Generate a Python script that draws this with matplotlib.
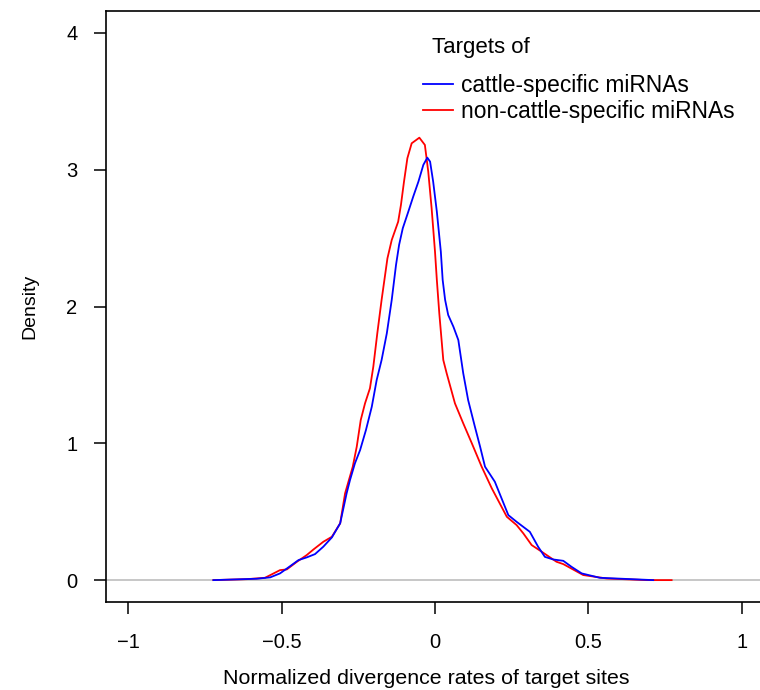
import matplotlib
matplotlib.use("Agg")
import matplotlib.pyplot as plt

plt.rcParams['font.family'] = ['Liberation Sans', 'DejaVu Sans']

# density of normalized divergence rates
cattle_x = [-0.722, -0.581, -0.537, -0.505, -0.472, -0.445, -0.418, -0.391, -0.364, -0.336,
            -0.309, -0.288, -0.277, -0.261, -0.244, -0.225, -0.206, -0.190, -0.174, -0.157,
            -0.141, -0.127, -0.117, -0.105, -0.087, -0.071, -0.054, -0.038, -0.025, -0.016,
            -0.006, 0.006, 0.019, 0.025, 0.033, 0.043, 0.060, 0.076, 0.092, 0.108,
            0.130, 0.147, 0.163, 0.195, 0.217, 0.239, 0.266, 0.309, 0.336, 0.358,
            0.385, 0.418, 0.445, 0.478, 0.537, 0.711]
cattle_y = [0.0, 0.010, 0.020, 0.049, 0.102, 0.146, 0.166, 0.190, 0.244, 0.312,
            0.415, 0.634, 0.731, 0.853, 0.951, 1.097, 1.267, 1.463, 1.609, 1.804,
            2.048, 2.304, 2.450, 2.572, 2.693, 2.803, 2.913, 3.035, 3.088, 3.059,
            2.913, 2.693, 2.401, 2.194, 2.048, 1.938, 1.852, 1.755, 1.512, 1.316,
            1.121, 0.975, 0.829, 0.719, 0.597, 0.475, 0.426, 0.353, 0.244, 0.170,
            0.151, 0.141, 0.097, 0.049, 0.017, 0.0]

other_x = [-0.722, -0.613, -0.554, -0.532, -0.505, -0.483, -0.450, -0.418, -0.396, -0.364,
           -0.336, -0.309, -0.293, -0.268, -0.255, -0.242, -0.228, -0.212, -0.201, -0.188,
           -0.174, -0.155, -0.141, -0.120, -0.111, -0.101, -0.090, -0.076, -0.051, -0.033,
           -0.022, -0.011, 0.000, 0.006, 0.014, 0.027, 0.038, 0.065, 0.092, 0.120,
           0.152, 0.185, 0.201, 0.234, 0.266, 0.288, 0.315, 0.348, 0.396, 0.418,
           0.483, 0.559, 0.690, 0.771]
other_y = [0.0, 0.007, 0.017, 0.042, 0.073, 0.078, 0.134, 0.183, 0.224, 0.280,
           0.317, 0.415, 0.634, 0.829, 0.975, 1.170, 1.292, 1.402, 1.560, 1.804,
           2.048, 2.352, 2.486, 2.620, 2.742, 2.913, 3.084, 3.193, 3.234, 3.181,
           2.986, 2.718, 2.401, 2.194, 1.950, 1.609, 1.512, 1.292, 1.146, 1.000,
           0.829, 0.671, 0.603, 0.463, 0.402, 0.341, 0.256, 0.207, 0.134, 0.117,
           0.037, 0.012, 0.0, 0.0]

xticks = [-1, -0.5, 0, 0.5, 1]
xtick_labels = ['\u22121', '\u22120.5', '0', '0.5', '1']
yticks = [0, 1, 2, 3, 4]

fig = plt.figure(figsize=(7.6, 6.9), dpi=100, facecolor='w')
ax = fig.add_axes([106 / 760, 88 / 690, 658 / 760, 591 / 690])

ax.axhline(0, color='#bebebe', lw=1.2, zorder=1)
ax.plot(cattle_x, cattle_y, color='#0000ff', lw=1.3, label='cattle-specific miRNAs',
        zorder=3, solid_joinstyle='round')
ax.plot(other_x, other_y, color='#ff0000', lw=1.3, label='non-cattle-specific miRNAs',
        zorder=2, solid_joinstyle='round')

ax.set_xlim(-1.072, 1.072)
ax.set_ylim(-0.16, 4.16)
ax.set_xticks(xticks)
ax.set_xticklabels(xtick_labels)
ax.set_yticks(yticks)
for s in ax.spines.values():
    s.set_linewidth(1.2)
ax.tick_params(length=8.5, width=1.1, labelsize=14.5, pad=12)
ax.tick_params(axis='x', pad=14)

ax.set_xlabel('Normalized divergence rates of target sites', fontsize=15.4, labelpad=12)
ax.xaxis.label.set_x(0.486)
ax.set_ylabel('Density', fontsize=14, labelpad=20)

ax.text(0.4955, 0.939, 'Targets of', transform=ax.transAxes, fontsize=16,
        ha='left', va='center')
leg = ax.legend(loc='upper left', bbox_to_anchor=(0.4818, 0.894),
                frameon=False, fontsize=16.4,
                handlelength=1.3, handletextpad=0.35, labelspacing=0.13,
                borderpad=0.0, borderaxespad=0)

fig.savefig('out.png', dpi=100)
